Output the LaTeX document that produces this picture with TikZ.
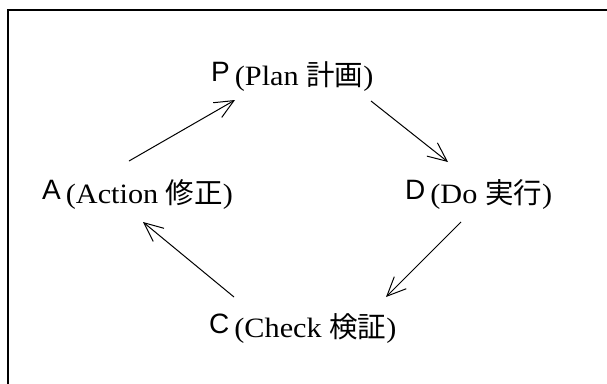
\documentclass[tikz,border=0pt]{standalone}
\usepackage{fontspec}
\usetikzlibrary{arrows.meta}
\newfontfamily\lblserif[FakeStretch=1.08]{Liberation Serif}
\newfontfamily\lblsans{Liberation Sans}
\newfontfamily\lblcjk{Noto Sans CJK JP}
\newcommand{\pdcaLabel}[3]{%
  \raisebox{4bp}{\fontsize{28bp}{30bp}\lblsans #1}\hspace{5bp}%
  {\fontsize{28bp}{30bp}\lblserif (#2 }%
  {\fontsize{28.5bp}{30bp}\lblcjk #3}%
  {\fontsize{28bp}{30bp}\lblserif )}}
\begin{document}
\begin{tikzpicture}[x=1bp,y=-1bp,
  lbl/.style={inner sep=0pt, anchor=base west},
  arr/.style={line width=1bp, -{Straight Barb[length=19bp,width=17bp,line width=1bp]}},
  frameline/.style={line width=2bp}]
\useasboundingbox (0,0) rectangle (607,383);
\draw[frameline] (7.7,390) -- (7.7,10) -- (615,10);
\node[lbl] (P) at (211,85) {\pdcaLabel{P}{Plan}{計画}};
\node[lbl] (A) at (42,203) {\pdcaLabel{A}{Action}{修正}};
\node[lbl] (D) at (405,203) {\pdcaLabel{D}{Do}{実行}};
\node[lbl] (C) at (209,337) {\pdcaLabel{C}{Check}{検証}};
\coordinate (ap1) at (129,161); \coordinate (ap2) at (235,100);
\coordinate (pd1) at (371,101); \coordinate (pd2) at (448,162);
\coordinate (dc1) at (461,222); \coordinate (dc2) at (386,297);
\coordinate (ca1) at (234,297); \coordinate (ca2) at (143,222);
\draw[arr] (ap1) -- (ap2);
\draw[arr] (pd1) -- (pd2);
\draw[arr] (dc1) -- (dc2);
\draw[arr] (ca1) -- (ca2);
\end{tikzpicture}
\end{document}
